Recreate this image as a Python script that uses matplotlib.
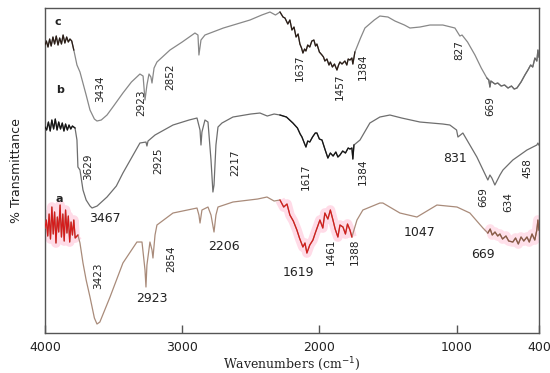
import numpy as np
import matplotlib
matplotlib.use("Agg")
import matplotlib.pyplot as plt

# spectrum c (top)
wn_c = [4000, 3990, 3978, 3966, 3955, 3942, 3930, 3918, 3905, 3893, 3880, 3868, 3855, 3842, 3830, 3818, 3805,
        3790, 3767, 3745, 3700, 3672, 3640, 3621, 3590, 3548, 3500, 3432, 3370, 3308, 3285, 3271, 3257,
        3242, 3228, 3220, 3205, 3184, 3089, 3000, 2907, 2885, 2878, 2863, 2834, 2700, 2506, 2420, 2360,
        2320, 2287, 2265, 2251, 2230, 2215, 2200, 2185, 2170, 2155, 2142, 2130, 2120, 2108, 2098, 2085,
        2070, 2055, 2040, 2028, 2018, 2000, 1981, 1970, 1960, 1945, 1930, 1920, 1905, 1890, 1872, 1860,
        1850, 1835, 1814, 1800, 1790, 1777, 1763, 1756, 1741, 1700, 1668, 1600, 1559, 1500, 1449, 1380,
        1340, 1267, 1194, 1100, 1012, 990, 976, 960, 920, 866, 820, 779, 765, 757, 750, 720, 700, 675,
        650, 625, 600, 580, 560, 530, 502, 480, 460, 445, 429, 415, 407, 400]
t_c = [288, 292, 286, 294, 287, 296, 289, 297, 288, 295, 289, 298, 290, 296, 291, 294, 292,
       283, 268, 261, 238, 223, 214, 212, 213, 218, 227, 240, 251, 259, 257, 233, 248,
       259, 256, 250, 265, 271, 283, 291, 300, 298, 278, 293, 298, 305, 313, 318, 321,
       318, 321, 316, 315, 309, 313, 303, 306, 296, 299, 289, 285, 280, 284, 282, 288,
       286, 292, 293, 287, 289, 281, 278, 276, 272, 274, 268, 271, 266, 269, 263, 268,
       271, 269, 272, 268, 274, 273, 275, 269, 281, 295, 305, 313, 317, 316, 312, 308,
       305, 306, 308, 308, 305, 300, 297, 298, 291, 278, 265, 255, 253, 246, 252, 249, 250, 247,
       248, 245, 247, 244, 245, 251, 258, 263, 268, 266, 275, 272, 283, 276]

# spectrum b (middle)
wn_b = [4000, 3988, 3975, 3962, 3950, 3937, 3925, 3912, 3900, 3887, 3874, 3862, 3850, 3837, 3825, 3812, 3800, 3781,
        3767, 3760, 3745, 3723, 3700, 3672, 3657, 3620, 3548, 3480, 3432, 3370, 3308, 3264, 3257, 3249,
        3198, 3067, 2950, 2892, 2870, 2863, 2856, 2834, 2812, 2790, 2776, 2768, 2754, 2739, 2710, 2630,
        2500, 2433, 2380, 2330, 2287, 2240, 2193, 2160, 2140, 2127, 2110, 2098, 2085, 2070, 2050, 2030,
        2018, 2000, 1981, 1960, 1938, 1920, 1900, 1880, 1865, 1850, 1830, 1810, 1790, 1777, 1763, 1756,
        1748, 1704, 1632, 1559, 1486, 1400, 1267, 1100, 1049, 1000, 990, 954, 852, 772, 757, 743, 730,
        721, 684, 662, 590, 487, 444, 415, 407, 400]
t_b = [206, 203, 211, 202, 213, 204, 214, 203, 211, 204, 210, 202, 209, 203, 208, 204, 207, 205,
       193, 166, 163, 143, 133, 127, 125, 127, 136, 147, 160, 175, 190, 191, 187, 192,
       198, 208, 213, 215, 203, 188, 201, 213, 211, 173, 141, 148, 188, 206, 210, 216,
       219, 220, 217, 219, 218, 216, 210, 205, 199, 196, 190, 186, 192, 191, 196, 200,
       200, 194, 193, 184, 175, 180, 177, 181, 176, 178, 182, 180, 185, 184, 185, 174,
       188, 193, 210, 216, 218, 215, 211, 209, 208, 203, 196, 200, 176, 153, 158, 155, 151,
       148, 158, 163, 173, 183, 186, 188, 190, 188]

# spectrum a (bottom)
wn_a = [4000, 3990, 3980, 3970, 3960, 3950, 3940, 3930, 3920, 3910, 3900, 3890, 3880, 3870, 3860, 3850,
        3840, 3830, 3820, 3810, 3800, 3790, 3780, 3760, 3745, 3723, 3700, 3672, 3640, 3621, 3600, 3526,
        3432, 3330, 3293, 3271, 3264, 3257, 3235, 3220, 3213, 3198, 3184, 3067, 2892, 2878, 2870, 2856,
        2812, 2790, 2768, 2754, 2739, 2630, 2450, 2382, 2330, 2287, 2260, 2236, 2215, 2190, 2164, 2145,
        2120, 2105, 2091, 2070, 2047, 2030, 1996, 1975, 1960, 1938, 1920, 1901, 1885, 1865, 1850, 1828,
        1810, 1795, 1777, 1763, 1726, 1683, 1559, 1537, 1413, 1289, 1143, 997, 903, 808, 772, 755, 740,
        720, 700, 684, 665, 640, 620, 590, 570, 550, 530, 510, 487, 470, 450, 430, 415, 407, 400]
t_a = [105, 113, 97, 119, 94, 126, 99, 121, 90, 116, 101, 128, 96, 119, 92, 123,
       100, 117, 91, 111, 98, 113, 95, 98, 90, 70, 53, 36, 15, 9, 11, 36,
       70, 91, 91, 63, 46, 68, 91, 83, 75, 98, 108, 120, 125, 118, 110, 123,
       126, 118, 101, 118, 126, 131, 134, 136, 132, 133, 126, 129, 118, 112, 103, 95,
       86, 90, 80, 88, 93, 100, 113, 105, 120, 114, 123, 113, 104, 96, 108, 106,
       99, 109, 103, 96, 113, 123, 130, 130, 120, 116, 128, 126, 120, 105, 100, 104, 98,
       101, 97, 99, 94, 97, 92, 91, 95, 89, 96, 92, 96, 91, 99, 93, 103, 113, 103]

# (wn, T, line colour, noisy-part colour, noisy ranges, halo colour)
spectra = [
    (wn_c, t_c, "#888888", "#2b1d16", [(4000, 3770), (2300, 1740)], None),
    (wn_b, t_b, "#6e6e6e", "#151515", [(4000, 3770), (2300, 1740)], None),
    (wn_a, t_a, "#a98b7a", "#d41c1c", [(4000, 3750), (2300, 1740)], "#ffd2e2"),
]
tails = [(wn_c, t_c, "#6a6a6a", None), (wn_a, t_a, "#8a5a48", "#ffe0ea")]

# peak labels: (text, wavenumber, height, rotated)
labels = [
    ("3434", 3599, 244, True), ("2923", 3300, 230, True), ("2852", 3089, 256, True),
    ("1637", 2142, 265, True), ("1457", 1850, 246, True), ("1384", 1683, 266, True),
    ("827", 983, 283, True), ("669", 757, 227, True),
    ("3629", 3687, 166, True), ("2925", 3177, 172, True), ("2217", 2615, 170, True),
    ("1617", 2098, 156, True), ("1384", 1683, 161, True), ("669", 808, 136, True),
    ("634", 626, 131, True), ("458", 487, 165, True),
    ("3467", 3563, 115, False), ("831", 1012, 175, False),
    ("3423", 3614, 57, True), ("2854", 3082, 74, True), ("1461", 1916, 81, True),
    ("1388", 1741, 81, True),
    ("2923", 3220, 35, False), ("2206", 2696, 87, False), ("1619", 2156, 61, False),
    ("1047", 1267, 101, False), ("669", 808, 79, False),
]
letters = [("c", 3905, 311), ("b", 3891, 243), ("a", 3898, 134)]

fig = plt.figure(figsize=(5.5, 3.73), dpi=100)
ax = fig.add_axes([0.0818, 0.1072, 0.898, 0.8713])

for wn, t, col, noise_col, segs, halo in spectra:
    wn = np.array(wn)
    t = np.array(t)
    ax.plot(wn, t, color=col, lw=0.9, zorder=3)
    for hi, lo in segs:
        m = (wn <= hi) & (wn >= lo)
        if halo:
            ax.plot(wn[m], t[m], color=halo, lw=7, alpha=0.8, zorder=1, solid_capstyle="butt")
        ax.plot(wn[m], t[m], color=noise_col, lw=0.9, zorder=4)

for wn, t, col, halo in tails:
    wn = np.array(wn)
    t = np.array(t)
    m = wn <= 780
    if halo:
        ax.plot(wn[m], t[m], color=halo, lw=7, zorder=1, solid_capstyle="butt")
    ax.plot(wn[m], t[m], color=col, lw=0.9, zorder=4)

for txt, x, y, rot in labels:
    if rot:
        ax.text(x, y, txt, rotation=90, ha="center", va="center", fontsize=7.5, color="#222222")
    else:
        ax.text(x, y, txt, ha="center", va="center", fontsize=9, color="#222222")

for txt, x, y in letters:
    ax.text(x, y, txt, ha="center", va="center", fontsize=8, fontweight="bold", color="#222222")

ax.set_xlim(4000, 400)
ax.set_ylim(0, 325)
ax.set_xticks([4000, 3000, 2000, 1000, 400])
ax.set_xticklabels(["4000", "3000", "2000", "1000", "400"])
ax.tick_params(axis="x", direction="in", length=6, width=1, colors="#555555",
               labelcolor="#222222", labelsize=9, pad=6)
ax.set_yticks([])
for s in ax.spines.values():
    s.set_color("#555555")
    s.set_linewidth(1)

ax.set_xlabel("Wavenumbers (cm$^{-1}$)", family="DejaVu Serif", fontsize=9, color="#222222", labelpad=1)
ax.set_ylabel("% Transmittance", fontsize=9, color="#222222", labelpad=16)

fig.savefig("out.png", dpi=100)
